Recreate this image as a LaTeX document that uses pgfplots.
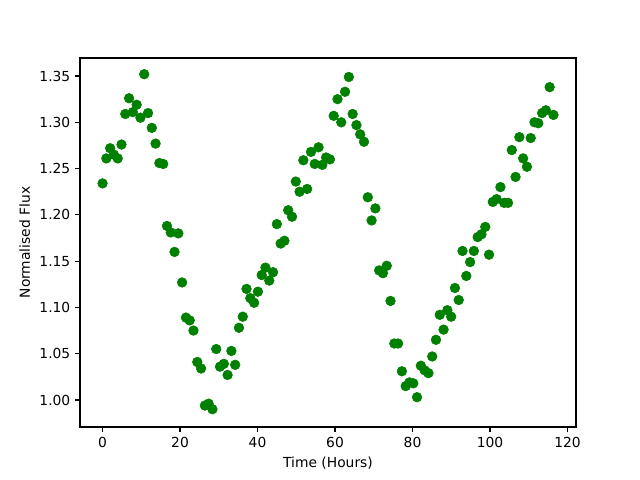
\documentclass[border=0pt]{standalone}
\usepackage{pgfplots}
\pgfplotsset{compat=1.18}
\usepackage{fontspec}
\setmainfont{DejaVu Sans}
\usetikzlibrary{calc}
\definecolor{mplgreen}{RGB}{0,128,0}
\begin{document}
\begin{tikzpicture}
\begin{axis}[
  scale only axis,
  width=4.96in, height=3.69in,
  xmin=-5.82, xmax=122.2,
  ymin=0.9708, ymax=1.3695,
  xtick={0,20,40,60,80,100,120},
  ytick={1.00,1.05,1.10,1.15,1.20,1.25,1.30,1.35},
  yticklabel style={/pgf/number format/.cd,fixed,fixed zerofill,precision=2},
  /pgf/number format/assume math mode=true,
  tick label style={font=\fontsize{10}{12}\selectfont},
  label style={font=\fontsize{10}{12}\selectfont},
  xlabel={Time (Hours)},
  ylabel={Normalised Flux},
  tick align=outside,
  tick pos=left,
  major tick length=3.5pt,
  axis line style={line width=0.8pt},
  every tick/.style={black, line width=0.8pt},
]
\addplot[only marks, mark=*, mark size=3.5pt, color=mplgreen, mark options={fill=mplgreen, draw=mplgreen}] coordinates {
(0,1.234) (0.98,1.261) (1.96,1.272) (2.93,1.265) (3.91,1.261) (4.89,1.276) (5.87,1.309) (6.85,1.326) (7.82,1.311) (8.80,1.319)
(9.78,1.305) (10.76,1.352) (11.74,1.310) (12.71,1.294) (13.69,1.277) (14.67,1.256) (15.65,1.255) (16.63,1.188) (17.60,1.181) (18.58,1.160)
(19.56,1.180) (20.54,1.127) (21.52,1.089) (22.49,1.086) (23.47,1.075) (24.45,1.041) (25.43,1.034) (26.41,0.994) (27.38,0.996) (28.36,0.990)
(29.34,1.055) (30.32,1.036) (31.30,1.039) (32.27,1.027) (33.25,1.053) (34.23,1.038) (35.21,1.078) (36.19,1.090) (37.16,1.120) (38.14,1.110)
(39.12,1.105) (40.10,1.117) (41.08,1.135) (42.05,1.143) (43.03,1.129) (44.01,1.138) (44.99,1.190) (45.97,1.169) (46.94,1.172) (47.92,1.205)
(48.90,1.198) (49.88,1.236) (50.86,1.225) (51.83,1.259) (52.81,1.228) (53.79,1.268) (54.77,1.255) (55.75,1.273) (56.72,1.254) (57.70,1.262)
(58.68,1.260) (59.66,1.307) (60.64,1.325) (61.61,1.300) (62.59,1.333) (63.57,1.349) (64.55,1.309) (65.53,1.297) (66.50,1.287) (67.48,1.279)
(68.46,1.219) (69.44,1.194) (70.42,1.207) (71.39,1.140) (72.37,1.137) (73.35,1.145) (74.33,1.107) (75.31,1.061) (76.28,1.061) (77.26,1.031)
(78.24,1.015) (79.22,1.019) (80.20,1.018) (81.17,1.003) (82.15,1.037) (83.13,1.032) (84.11,1.029) (85.09,1.047) (86.06,1.065) (87.04,1.092)
(88.02,1.076) (89.00,1.097) (89.98,1.090) (90.95,1.121) (91.93,1.108) (92.91,1.161) (93.89,1.134) (94.87,1.149) (95.84,1.161) (96.82,1.176)
(97.80,1.179) (98.78,1.187) (99.76,1.157) (100.73,1.214) (101.71,1.217) (102.69,1.230) (103.67,1.213) (104.65,1.213) (105.62,1.270) (106.60,1.241)
(107.58,1.284) (108.56,1.261) (109.54,1.252) (110.51,1.283) (111.49,1.300) (112.47,1.299) (113.45,1.310) (114.43,1.313) (115.40,1.338) (116.38,1.308)
};
\end{axis}
\path[use as bounding box] ($(current axis.south west)+(-0.80in,-0.53in)$) rectangle ($(current axis.north east)+(0.64in,0.58in)$);
\end{tikzpicture}
\end{document}
